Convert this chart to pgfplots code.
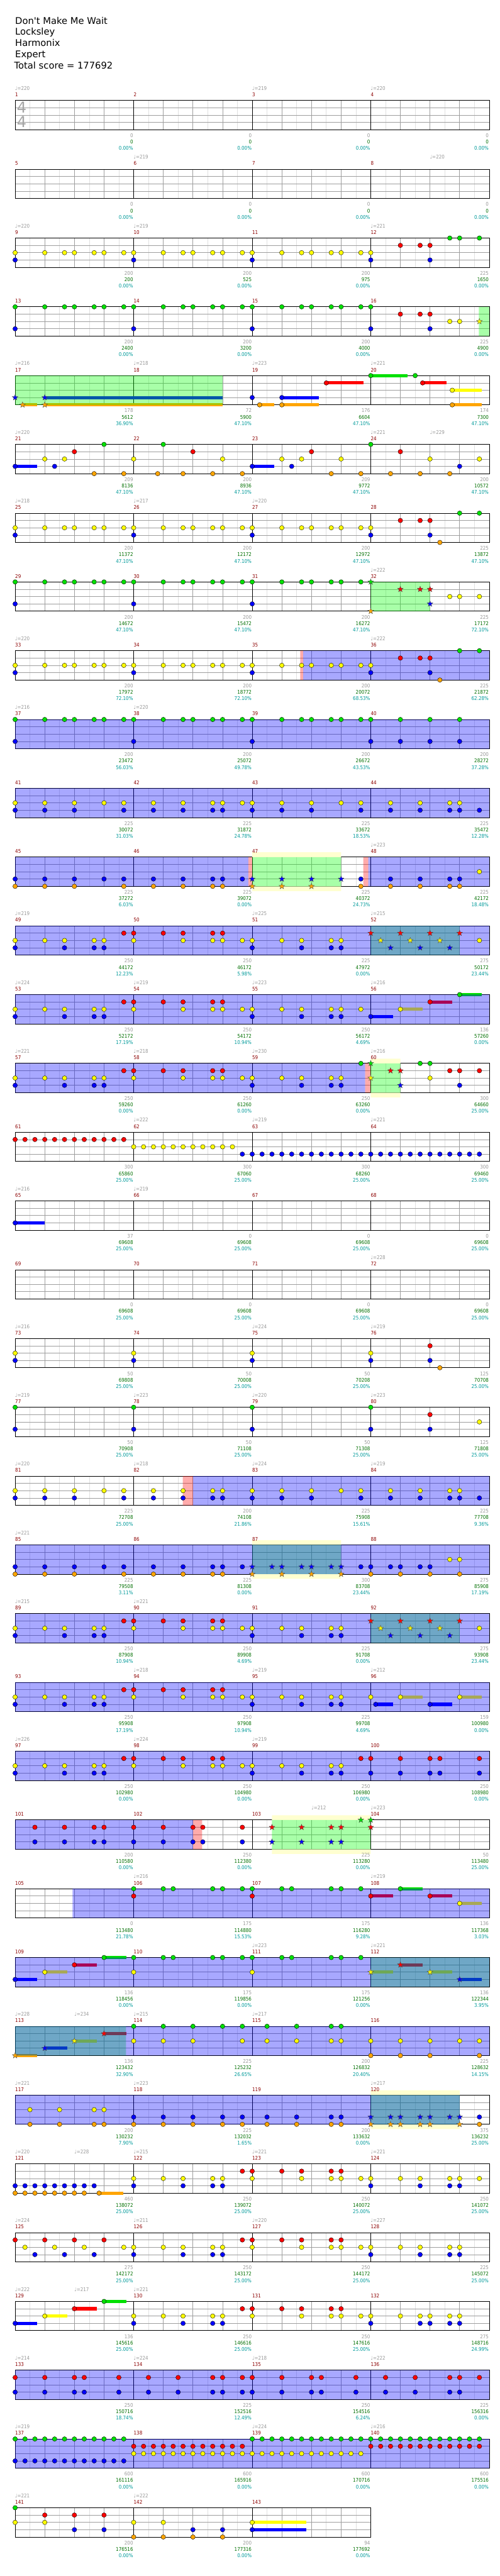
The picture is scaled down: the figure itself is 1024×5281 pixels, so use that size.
\documentclass[border=0pt]{standalone}
\usepackage{fontspec}
\setmainfont{DejaVu Sans}
\newfontfamily\labf{DejaVu Sans}[FakeStretch=0.88]
\usepackage{pgfplots}
\pgfplotsset{compat=1.18}
\definecolor{cG}{RGB}{0,224,0}
\definecolor{cR}{RGB}{255,0,0}
\definecolor{cY}{RGB}{255,255,0}
\definecolor{cB}{RGB}{0,0,255}
\definecolor{cO}{RGB}{255,165,0}
\definecolor{ovg}{RGB}{0,255,0}
\definecolor{paley}{RGB}{255,255,208}
\definecolor{lgrey}{RGB}{153,153,153}
\definecolor{sgreen}{RGB}{0,110,0}
\definecolor{steal}{RGB}{0,153,153}
\definecolor{mred}{RGB}{139,0,0}
\newcommand\lab{\labf\fontsize{10.5}{12}\selectfont}
\newcommand\ttl{\fontsize{19}{23}\selectfont}
\pgfdeclareplotmark{fstar}{%
 \pgfpathmoveto{\pgfpointpolar{90}{\pgfplotmarksize}}%
 \pgfpathlineto{\pgfpointpolar{126}{0.42\pgfplotmarksize}}%
 \pgfpathlineto{\pgfpointpolar{162}{\pgfplotmarksize}}%
 \pgfpathlineto{\pgfpointpolar{198}{0.42\pgfplotmarksize}}%
 \pgfpathlineto{\pgfpointpolar{234}{\pgfplotmarksize}}%
 \pgfpathlineto{\pgfpointpolar{270}{0.42\pgfplotmarksize}}%
 \pgfpathlineto{\pgfpointpolar{306}{\pgfplotmarksize}}%
 \pgfpathlineto{\pgfpointpolar{342}{0.42\pgfplotmarksize}}%
 \pgfpathlineto{\pgfpointpolar{18}{\pgfplotmarksize}}%
 \pgfpathlineto{\pgfpointpolar{54}{0.42\pgfplotmarksize}}%
 \pgfpathclose\pgfusepathqfillstroke}
\pgfplotsset{
 rowax/.style={scale only axis, width=972pt, height=60pt, xmin=0, xmax=16, ymin=0, ymax=4,
  clip=false, anchor=north west, axis line style={draw=black, line width=1.1pt},
  xtick={0,...,16}, minor xtick={0.5,1.5,...,15.5}, ytick={1,2,3},
  xticklabels={}, yticklabels={}, major tick length=0pt, minor tick length=0pt,
  xmajorgrids=true, xminorgrids=true, ymajorgrids=true,
  major grid style={draw=black!38, line width=0.9pt},
  minor grid style={draw=black!12, line width=0.8pt},
  extra x ticks={4,8,12}, extra x tick labels={},
  extra x tick style={major grid style={draw=black, line width=0.9pt}}},
 lastax/.style={rowax, width=729pt, xmax=12, xtick={0,...,12}, minor xtick={0.5,1.5,...,11.5}, extra x ticks={4,8}},
 nt/.style={only marks, mark=*, mark size=4.7pt, mark options={draw=black, line width=0.5pt, fill=#1}, forget plot},
 st/.style={only marks, mark=fstar, mark size=6.2pt, mark options={draw=black!70, line width=0.5pt, fill=#1}, forget plot},
 su/.style={no marks, draw=#1, line width=6.5pt, line cap=butt, forget plot},
}
\tikzset{
 mnum/.style={anchor=base west, inner sep=0pt, font=\lab, text=mred},
 tmp/.style={anchor=base west, inner sep=0pt, font=\lab, text=lgrey},
 s1/.style={anchor=base east, inner sep=0pt, font=\lab, text=lgrey, xshift=-1pt},
 s2/.style={anchor=base east, inner sep=0pt, font=\lab, text=sgreen, xshift=-1pt},
 s3/.style={anchor=base east, inner sep=0pt, font=\lab, text=steal, xshift=-1pt},
}
\newcommand\ptsplot[3]{\gdef\tmpc{}\edef\tmplist{#3}%
 \foreach \x in \tmplist {\xdef\tmpc{\tmpc(\x,#2)}}%
 \edef\tmpd{\noexpand\addplot[#1] coordinates {\tmpc};}\tmpd}
\newcommand\nts[3]{\ptsplot{nt=#1}{#2}{#3}}
\newcommand\sts[3]{\ptsplot{st=#1}{#2}{#3}}
\newcommand\sus[4]{\addplot[su=#1] coordinates {(#3,#2)(#4,#2)};}
\newcommand\reg[4]{\addplot[draw=none, fill=#1, fill opacity=#2, forget plot] coordinates {(#3,0)(#4,0)(#4,4)(#3,4)(#3,0)};}
\newcommand\ovB[2]{\reg{cB}{0.34}{#1}{#2}}
\newcommand\ovG[2]{\reg{ovg}{0.34}{#1}{#2}}
\newcommand\ovP[2]{\reg{cR}{0.33}{#1}{#2}}
\newcommand\ovY[2]{\addplot[draw=none, fill=paley, forget plot] coordinates {(#1,4)(#2,4)(#2,4.65)(#1,4.65)(#1,4)};%
 \addplot[draw=none, fill=paley, forget plot] coordinates {(#1,0)(#2,0)(#2,-0.65)(#1,-0.65)(#1,0)};}
\newcommand\tp[2]{\node[tmp] at (axis cs:#1,5.4) {♩=#2};}
\newcommand\mns[1]{\node[mnum] at (axis cs:0,4.53) {#1};\node[mnum] at (axis cs:4,4.53) {\the\numexpr#1+1\relax};%
 \node[mnum] at (axis cs:8,4.53) {\the\numexpr#1+2\relax};\node[mnum] at (axis cs:12,4.53) {\the\numexpr#1+3\relax};}
\newcommand\scr[4]{\node[s1] at (axis cs:#1,-1.05) {#2};\node[s2] at (axis cs:#1,-1.92) {#3};\node[s3] at (axis cs:#1,-2.8) {#4};}
\def\SwA{0,1,1.667,2,2.667,3,3.667}
\def\SwB{4,5,5.667,6,6.667,7,7.667}
\def\SwC{8,9,9.667,10,10.667,11,11.667}
\def\PatY{0,1,1.667,2.667,3,4,5.667,6.667,7,7.667,8,9,9.667,10.667,11}
\def\PatB{0,1.667,2.667,3,8,9.667,10.667,11}
\def\PatR{3.667,4,5,5.667,6.667,7}
\def\triA{0,0.333,0.667,1,1.333,1.667,2,2.333,2.667,3,3.333,3.667}
\def\triB{4,4.333,4.667,5,5.333,5.667,6,6.333,6.667,7,7.333,7.667}
\def\triC{8,8.333,8.667,9,9.333,9.667,10,10.333,10.667,11,11.333,11.667}
\def\triD{12,12.333,12.667,13,13.333,13.667,14,14.333,14.667,15,15.333,15.667}
\begin{document}
\begin{tikzpicture}
\useasboundingbox (0,0) rectangle (1024pt,-5281pt);
\node[anchor=base west, inner sep=0pt, font=\ttl] at (31pt,-49pt) {Don\textquotesingle t Make Me Wait};
\node[anchor=base west, inner sep=0pt, font=\ttl] at (31pt,-72pt) {Locksley};
\node[anchor=base west, inner sep=0pt, font=\ttl] at (31pt,-95pt) {Harmonix};
\node[anchor=base west, inner sep=0pt, font=\ttl] at (31pt,-118pt) {Expert};
\node[anchor=base west, inner sep=0pt, font=\ttl] at (29pt,-141pt) {Total score = 177692};
% row 1
\begin{axis}[rowax, at={(31pt,-206pt)}]
\node[text=black!35, font=\fontsize{31}{31}\selectfont, inner sep=0pt] at (axis cs:0.22,3.03) {4};
\node[text=black!35, font=\fontsize{31}{31}\selectfont, inner sep=0pt] at (axis cs:0.22,1.07) {4};
\mns{1}\tp{0}{220}\tp{8}{219}\tp{12}{220}
\scr{4}{0}{0}{0.00\%}\scr{8}{0}{0}{0.00\%}\scr{12}{0}{0}{0.00\%}\scr{16}{0}{0}{0.00\%}
\end{axis}
% row 2
\begin{axis}[rowax, at={(31pt,-347pt)}]
\mns{5}\tp{4}{219}\tp{14}{220}
\scr{4}{0}{0}{0.00\%}\scr{8}{0}{0}{0.00\%}\scr{12}{0}{0}{0.00\%}\scr{16}{0}{0}{0.00\%}
\end{axis}
% row 3
\begin{axis}[rowax, at={(31pt,-488pt)}]
\nts{cY}{2}{\SwA,\SwB,\SwC,12}
\nts{cB}{1}{0,4,8,12,14}
\nts{cR}{3}{13,13.667,14}
\nts{cG}{4}{14.667,15,15.667}
\mns{9}\tp{0}{220}\tp{4}{219}\tp{12}{221}
\scr{4}{200}{200}{0.00\%}\scr{8}{200}{525}{0.00\%}\scr{12}{200}{975}{0.00\%}\scr{16}{225}{1650}{0.00\%}
\end{axis}
% row 4
\begin{axis}[rowax, at={(31pt,-629pt)}]
\nts{cG}{4}{\SwA,\SwB,\SwC,12}
\nts{cB}{1}{0,4,8,12,14}
\nts{cR}{3}{13,13.667,14}
\nts{cY}{2}{14.667,15}
\sts{cY}{2}{15.667}
\ovG{15.65}{16}
\mns{13}
\scr{4}{200}{2400}{0.00\%}\scr{8}{200}{3200}{0.00\%}\scr{12}{200}{4000}{0.00\%}\scr{16}{225}{4900}{0.00\%}
\end{axis}
% row 5
\begin{axis}[rowax, at={(31pt,-770pt)}]
\sus{cO}{0}{0.25}{0.75}\sus{cB}{1}{1}{7}\sus{cO}{0}{1}{7}\sus{cO}{0}{8.25}{8.75}
\sus{cB}{1}{9}{10.25}\sus{cO}{0}{9}{10.25}\sus{cR}{3}{10.5}{11.75}\sus{cG}{4}{12}{13.25}
\sus{cR}{3}{13.75}{14.55}\sus{cY}{2}{14.75}{15.75}\sus{cO}{0}{14.75}{15.75}
\sts{cB}{1}{0,1}\sts{cO}{0}{0.25,1}
\nts{cB}{1}{8,9}\nts{cO}{0}{8.25,9,14.75}\nts{cR}{3}{10.5,13.75}\nts{cG}{4}{12,13.5}\nts{cY}{2}{14.75}
\ovG{0}{7}
\mns{17}\tp{0}{216}\tp{4}{218}\tp{8}{223}\tp{12}{221}
\scr{4}{178}{5612}{36.90\%}\scr{8}{72}{5900}{47.10\%}\scr{12}{176}{6604}{47.10\%}\scr{16}{174}{7300}{47.10\%}
\end{axis}
% row 6
\begin{axis}[rowax, at={(31pt,-911pt)}]
\sus{cB}{1}{0}{0.75}\sus{cB}{1}{8}{8.75}
\nts{cB}{1}{0,1.333,8,9.333,15}
\nts{cY}{2}{1,1.667,4,7,9,9.667,11,14,15.667}
\nts{cR}{3}{2,6,10,13}
\nts{cG}{4}{3,5,12}
\nts{cO}{0}{2.667,3.667,4.81,5.667,6.667,7.667,10.667,11.667,12.667,13.667,14.667}
\mns{21}\tp{0}{220}\tp{12}{221}\tp{14}{229}
\scr{4}{209}{8136}{47.10\%}\scr{8}{200}{8936}{47.10\%}\scr{12}{209}{9772}{47.10\%}\scr{16}{200}{10572}{47.10\%}
\end{axis}
% row 7
\begin{axis}[rowax, at={(31pt,-1052pt)}]
\nts{cY}{2}{\SwA,\SwB,\SwC,12}
\nts{cB}{1}{0,4,8,12,14}
\nts{cR}{3}{13,13.667,14}
\nts{cO}{0}{14.333}
\nts{cG}{4}{15,15.667}
\mns{25}\tp{0}{218}\tp{4}{217}\tp{8}{220}
\scr{4}{200}{11372}{47.10\%}\scr{8}{200}{12172}{47.10\%}\scr{12}{200}{12972}{47.10\%}\scr{16}{225}{13872}{47.10\%}
\end{axis}
% row 8
\begin{axis}[rowax, at={(31pt,-1193pt)}]
\nts{cG}{4}{\SwA,\SwB,\SwC}
\nts{cB}{1}{0,4,8}
\nts{cY}{2}{14.667,15,15.667}
\sts{cG}{4}{12}\sts{cO}{0}{12}\sts{cR}{3}{13,13.667,14}\sts{cB}{1}{14}
\ovG{12}{14}
\mns{29}\tp{12}{222}
\scr{4}{200}{14672}{47.10\%}\scr{8}{200}{15472}{47.10\%}\scr{12}{200}{16272}{47.10\%}\scr{16}{225}{17172}{72.10\%}
\end{axis}
% row 9
\begin{axis}[rowax, at={(31pt,-1334pt)}]
\nts{cY}{2}{\SwA,\SwB,\SwC,12}
\nts{cB}{1}{0,4,8,12,14}
\nts{cR}{3}{13,13.667,14}
\nts{cO}{0}{14.333}
\nts{cG}{4}{15,15.667}
\ovP{9.62}{9.72}\ovB{9.72}{16}
\mns{33}\tp{0}{220}\tp{12}{222}
\scr{4}{200}{17972}{72.10\%}\scr{8}{200}{18772}{72.10\%}\scr{12}{200}{20072}{68.53\%}\scr{16}{225}{21872}{62.28\%}
\end{axis}
% row 10
\begin{axis}[rowax, at={(31pt,-1475pt)}]
\nts{cG}{4}{\SwA,\SwB,\SwC,12,13,14,15}
\nts{cB}{1}{0,4,8,12,13,14,15}
\ovB{0}{16}
\mns{37}\tp{0}{216}\tp{4}{220}
\scr{4}{200}{23472}{56.03\%}\scr{8}{200}{25072}{49.78\%}\scr{12}{200}{26672}{43.53\%}\scr{16}{200}{28272}{37.28\%}
\end{axis}
% row 11
\begin{axis}[rowax, at={(31pt,-1616pt)}]
\nts{cY}{2}{0,1,2,3,3.667,4.667,5.667,6.667,7,7.667,8,9,10,11,11.667,12.667,13.667,14.667,15}
\nts{cB}{1}{0,1,2,3.667,4.667,5.667,6.667,7,8,9,10,11.667,12.667,13.667,14.667,15,15.667}
\ovB{0}{16}
\mns{41}
\scr{4}{225}{30072}{31.03\%}\scr{8}{225}{31872}{24.78\%}\scr{12}{225}{33672}{18.53\%}\scr{16}{225}{35472}{12.28\%}
\end{axis}
% row 12
\begin{axis}[rowax, at={(31pt,-1757pt)}]
\ovY{8}{11}
\nts{cB}{1}{0,1,2,3,3.667,4.667,5.667,6.667,7,7.667,11.667,12.667,13.667,14.667,15}
\nts{cO}{0}{0,1,2,3.667,4.667,5.667,6.667,7,11.667,12.667,13.667,14.667,15}
\sts{cB}{1}{8,9,10,11}\sts{cO}{0}{8,9,10}
\nts{cY}{2}{15.667}
\ovB{0}{7.87}\ovP{7.87}{8}\ovG{8}{11}\ovP{11.75}{11.92}\ovB{11.92}{16}
\mns{45}\tp{12}{223}
\scr{4}{225}{37272}{6.03\%}\scr{8}{225}{39072}{0.00\%}\scr{12}{225}{40372}{24.73\%}\scr{16}{225}{42172}{18.48\%}
\end{axis}
% row 13
\begin{axis}[rowax, at={(31pt,-1898pt)}]
\nts{cY}{2}{\PatY,15.667}\nts{cB}{1}{\PatB}\nts{cR}{3}{\PatR}
\sts{cR}{3}{12,13,14,15}\sts{cY}{2}{12.333,13.333,14.333}\sts{cB}{1}{12.667,13.667,14.667}
\ovG{12}{15}\ovB{0}{16}
\mns{49}\tp{0}{219}\tp{8}{225}\tp{12}{215}
\scr{4}{250}{44172}{12.23\%}\scr{8}{250}{46172}{5.98\%}\scr{12}{225}{47972}{0.00\%}\scr{16}{275}{50172}{23.44\%}
\end{axis}
% row 14
\begin{axis}[rowax, at={(31pt,-2039pt)}]
\sus{cB}{1}{12}{12.75}\sus{cY}{2}{13}{13.75}\sus{cR}{3}{14}{14.75}\sus{cG}{4}{15}{15.75}
\nts{cY}{2}{\PatY,11.667,13}\nts{cB}{1}{\PatB,12}\nts{cR}{3}{\PatR,14}\nts{cG}{4}{15}
\ovB{0}{16}
\mns{53}\tp{0}{224}\tp{4}{219}\tp{8}{223}\tp{12}{216}
\scr{4}{250}{52172}{17.19\%}\scr{8}{250}{54172}{10.94\%}\scr{12}{250}{56172}{4.69\%}\scr{16}{136}{57260}{0.00\%}
\end{axis}
% row 15
\begin{axis}[rowax, at={(31pt,-2180pt)}]
\ovY{12}{13}
\nts{cY}{2}{\PatY,14}\nts{cB}{1}{\PatB,15}\nts{cR}{3}{\PatR,14.667,15,15.667}\nts{cG}{4}{11.667,13.667,14}
\sts{cG}{4}{12}\sts{cY}{2}{12}\sts{cR}{3}{12.667,13}\sts{cB}{1}{13}
\ovB{0}{11.81}\ovP{11.81}{12}\ovG{12}{13}
\mns{57}\tp{0}{221}\tp{4}{218}\tp{8}{230}\tp{12}{216}
\scr{4}{250}{59260}{0.00\%}\scr{8}{250}{61260}{0.00\%}\scr{12}{250}{63260}{0.00\%}\scr{16}{300}{64660}{25.00\%}
\end{axis}
% row 16
\begin{axis}[rowax, at={(31pt,-2321pt)}]
\nts{cR}{3}{\triA}
\nts{cY}{2}{4,4.333,4.667,5,5.333,5.667,6,6.333,6.667,7,7.333}
\nts{cB}{1}{7.667,\triC,\triD}
\mns{61}\tp{4}{222}\tp{8}{219}\tp{12}{221}
\scr{4}{300}{65860}{25.00\%}\scr{8}{300}{67060}{25.00\%}\scr{12}{300}{68260}{25.00\%}\scr{16}{300}{69460}{25.00\%}
\end{axis}
% row 17
\begin{axis}[rowax, at={(31pt,-2462pt)}]
\sus{cB}{1}{0}{1}\nts{cB}{1}{0}
\mns{65}\tp{0}{216}\tp{4}{219}
\scr{4}{37}{69608}{25.00\%}\scr{8}{0}{69608}{25.00\%}\scr{12}{0}{69608}{25.00\%}\scr{16}{0}{69608}{25.00\%}
\end{axis}
% row 18
\begin{axis}[rowax, at={(31pt,-2603pt)}]
\mns{69}\tp{12}{228}
\scr{4}{0}{69608}{25.00\%}\scr{8}{0}{69608}{25.00\%}\scr{12}{0}{69608}{25.00\%}\scr{16}{0}{69608}{25.00\%}
\end{axis}
% row 19
\begin{axis}[rowax, at={(31pt,-2744pt)}]
\nts{cY}{2}{0,4,8,12}\nts{cB}{1}{0,4,8,12,14}\nts{cR}{3}{14}\nts{cO}{0}{14.333}
\mns{73}\tp{0}{216}\tp{8}{224}\tp{12}{219}
\scr{4}{50}{69808}{25.00\%}\scr{8}{50}{70008}{25.00\%}\scr{12}{50}{70208}{25.00\%}\scr{16}{125}{70708}{25.00\%}
\end{axis}
% row 20
\begin{axis}[rowax, at={(31pt,-2885pt)}]
\nts{cG}{4}{0,4,8,12}\nts{cB}{1}{0,4,8,12,14}\nts{cR}{3}{14}\nts{cY}{2}{15.667}
\mns{77}\tp{0}{219}\tp{4}{223}\tp{8}{220}\tp{12}{223}
\scr{4}{50}{70908}{25.00\%}\scr{8}{50}{71108}{25.00\%}\scr{12}{50}{71308}{25.00\%}\scr{16}{125}{71808}{25.00\%}
\end{axis}
% row 21
\begin{axis}[rowax, at={(31pt,-3026pt)}]
\nts{cY}{2}{0,1,2,3,3.667,4.667,5.667,6.667,7,8,9,10,11,11.667,12.667,13.667,14.667,15}
\nts{cB}{1}{0,1,2,3.667,4.667,5.667,6.667,7,8,9,10,11.667,12.667,13.667,14.667,15,15.667}
\ovP{5.66}{6}\ovB{6}{16}
\mns{81}\tp{0}{220}\tp{4}{218}\tp{8}{224}\tp{12}{219}
\scr{4}{225}{72708}{25.00\%}\scr{8}{200}{74108}{21.86\%}\scr{12}{225}{75908}{15.61\%}\scr{16}{225}{77708}{9.36\%}
\end{axis}
% row 22
\begin{axis}[rowax, at={(31pt,-3167pt)}]
\ovY{8}{11}
\nts{cB}{1}{0,1,2,3,3.667,4.667,5.667,6.667,7,7.667,11.667,12,12.667,13,13.667,14}
\nts{cO}{0}{0,1,2,3.667,4.667,5.667,6.667,7,12,13,14,15}
\sts{cB}{1}{8,8.667,9,9.667,10,10.667,11}\sts{cO}{0}{8,9,10,11}
\nts{cY}{2}{14.667,15}
\ovG{8}{11}\ovB{0}{16}
\mns{85}\tp{0}{221}
\scr{4}{225}{79508}{3.11\%}\scr{8}{225}{81308}{0.00\%}\scr{12}{300}{83708}{23.44\%}\scr{16}{275}{85908}{17.19\%}
\end{axis}
% row 23
\begin{axis}[rowax, at={(31pt,-3308pt)}]
\nts{cY}{2}{\PatY,15.667}\nts{cB}{1}{\PatB}\nts{cR}{3}{\PatR}
\sts{cR}{3}{12,13,14,15}\sts{cY}{2}{12.333,13.333,14.333}\sts{cB}{1}{12.667,13.667,14.667}
\ovG{12}{15}\ovB{0}{16}
\mns{89}\tp{0}{215}\tp{4}{221}
\scr{4}{250}{87908}{10.94\%}\scr{8}{250}{89908}{4.69\%}\scr{12}{225}{91708}{0.00\%}\scr{16}{275}{93908}{23.44\%}
\end{axis}
% row 24
\begin{axis}[rowax, at={(31pt,-3449pt)}]
\sus{cB}{1}{12.167}{12.75}\sus{cY}{2}{13}{13.75}\sus{cB}{1}{14}{14.75}\sus{cY}{2}{15}{15.75}
\nts{cY}{2}{\PatY,12,13,15}\nts{cB}{1}{\PatB,12.167,14}\nts{cR}{3}{\PatR}
\ovB{0}{16}
\mns{93}\tp{4}{218}\tp{8}{219}\tp{12}{212}
\scr{4}{250}{95908}{17.19\%}\scr{8}{250}{97908}{10.94\%}\scr{12}{225}{99708}{4.69\%}\scr{16}{159}{100980}{0.00\%}
\end{axis}
% row 25
\begin{axis}[rowax, at={(31pt,-3590pt)}]
\nts{cY}{2}{\PatY}\nts{cB}{1}{\PatB,12,13,14,14.333,15.667}\nts{cR}{3}{\PatR,11.667,12,13,14,14.333,15.667}
\ovB{0}{16}
\mns{97}\tp{0}{226}\tp{4}{224}\tp{8}{219}
\scr{4}{250}{102980}{0.00\%}\scr{8}{250}{104980}{0.00\%}\scr{12}{250}{106980}{0.00\%}\scr{16}{250}{108980}{0.00\%}
\end{axis}
% row 26
\begin{axis}[rowax, at={(31pt,-3731pt)}]
\ovY{8.667}{12}
\nts{cR}{3}{0.667,1.667,2.667,3,4,5,6,6.333,7.667}
\nts{cB}{1}{0.667,1.667,2.667,3,4,5,6,6.333,7.667}
\sts{cR}{3}{8.667,9.667,10.667,11,12}\sts{cB}{1}{8.667,9.667,10.667,11}\sts{cG}{4}{11.667,12}
\ovB{0}{6}\ovP{6}{6.31}\ovG{8.667}{12}
\mns{101}\tp{10}{212}\tp{12}{223}
\scr{4}{200}{110580}{0.00\%}\scr{8}{250}{112380}{0.00\%}\scr{12}{225}{113280}{0.00\%}\scr{16}{50}{113480}{25.00\%}
\end{axis}
% row 27
\begin{axis}[rowax, at={(31pt,-3872pt)}]
\sus{cR}{3}{12}{12.75}\sus{cG}{4}{13}{13.75}\sus{cR}{3}{14}{14.75}\sus{cY}{2}{15}{15.75}
\nts{cG}{4}{4,5,5.333,6.667,7,7.667,8,9,9.333,10.667,11,11.667,13}
\nts{cR}{3}{4,8,12,14}\nts{cY}{2}{15}
\ovB{1.94}{16}
\mns{105}\tp{4}{216}\tp{12}{219}
\scr{4}{0}{113480}{21.78\%}\scr{8}{175}{114880}{15.53\%}\scr{12}{175}{116280}{9.28\%}\scr{16}{136}{117368}{3.03\%}
\end{axis}
% row 28
\begin{axis}[rowax, at={(31pt,-4013pt)}]
\sus{cB}{1}{0}{0.75}\sus{cY}{2}{1}{1.75}\sus{cR}{3}{2}{2.75}\sus{cG}{4}{3}{3.75}
\sus{cY}{2}{12}{12.75}\sus{cR}{3}{13}{13.75}\sus{cY}{2}{14}{14.75}\sus{cB}{1}{15}{15.75}
\nts{cB}{1}{0}\nts{cY}{2}{1,4,8}\nts{cR}{3}{2}\nts{cG}{4}{3,4,5,5.333,6.667,7,7.667,8,9,9.333,10.667,11,11.667}
\sts{cY}{2}{12,14}\sts{cR}{3}{13}\sts{cB}{1}{15}
\ovG{12}{16}\ovB{0}{16}
\mns{109}\tp{8}{223}\tp{12}{221}
\scr{4}{136}{118456}{0.00\%}\scr{8}{175}{119856}{0.00\%}\scr{12}{175}{121256}{0.00\%}\scr{16}{136}{122344}{3.95\%}
\end{axis}
% row 29
\begin{axis}[rowax, at={(31pt,-4154pt)}]
\sus{cO}{0}{0}{0.75}\sus{cB}{1}{1}{1.75}\sus{cY}{2}{2}{2.75}\sus{cR}{3}{3}{3.75}
\sts{cO}{0}{0}\sts{cB}{1}{1}\sts{cY}{2}{2}\sts{cR}{3}{3}
\nts{cG}{4}{4,5,6,7,7.667,8.5,9.5,10.667,11}
\nts{cY}{2}{4,5,6,7.667,8.5,9.5,10.667,11,12,13,14,15,15.667}
\nts{cO}{0}{12,13,14,15.667}
\ovG{0}{3.74}\ovB{0}{16}
\mns{113}\tp{0}{228}\tp{2}{234}\tp{4}{215}\tp{8}{217}
\scr{4}{136}{123432}{32.90\%}\scr{8}{225}{125232}{26.65\%}\scr{12}{200}{126832}{20.40\%}\scr{16}{225}{128632}{14.15\%}
\end{axis}
% row 30
\begin{axis}[rowax, at={(31pt,-4295pt)}]
\ovY{12}{15}
\nts{cY}{2}{0.5,1.5,2.667,3}
\nts{cO}{0}{0.5,1.5,2.667,3,4,5,6,7,7.667,8.5,9.5,10.667,11,15.667}
\nts{cB}{1}{4,5,6,7,7.667,8.5,9.5,10.667,11,15.667}
\sts{cB}{1}{12,12.667,13,13.667,14,14.667,15}\sts{cO}{0}{12,12.667,13,13.667,14,15}
\ovG{12}{15}\ovB{0}{15}
\mns{117}\tp{0}{221}\tp{4}{223}\tp{12}{217}
\scr{4}{200}{130232}{7.90\%}\scr{8}{225}{132032}{1.65\%}\scr{12}{200}{133632}{0.00\%}\scr{16}{375}{136232}{25.00\%}
\end{axis}
% row 31
\begin{axis}[rowax, at={(31pt,-4436pt)}]
\sus{cO}{0}{2.833}{3.65}
\nts{cB}{1}{0,0.333,0.667,1,1.333,1.667,2,2.333,2.667,4,5.667,6.667,7,12,13.667,14.667,15}
\nts{cO}{0}{0,0.333,0.667,1,1.333,1.667,2,2.333,2.833}
\nts{cY}{2}{4,5,5.667,6.667,7,8,9.667,10.667,11,11.667,12,13,13.667,14.667,15,15.667}
\nts{cR}{3}{7.667,8,9,9.667,10.667,11}
\mns{121}\tp{0}{220}\tp{2}{228}\tp{4}{215}\tp{8}{221}\tp{12}{221}
\scr{4}{460}{138072}{25.00\%}\scr{8}{250}{139072}{25.00\%}\scr{12}{250}{140072}{25.00\%}\scr{16}{250}{141072}{25.00\%}
\end{axis}
% row 32
\begin{axis}[rowax, at={(31pt,-4577pt)}]
\nts{cR}{3}{0,1,2,3,7.667,8,9,9.667,10.667,11}
\nts{cY}{2}{0.333,1.333,2.333,3.667,4,5,5.667,6.667,7,8,9.667,10.667,11,11.667,12,13,13.667,14.667,15}
\nts{cB}{1}{0.667,1.667,2.667,4,5.667,6.667,7,12,13.667,14.667,15}
\mns{125}\tp{0}{224}\tp{4}{211}\tp{8}{220}\tp{12}{227}
\scr{4}{275}{142172}{25.00\%}\scr{8}{250}{143172}{25.00\%}\scr{12}{250}{144172}{25.00\%}\scr{16}{225}{145072}{25.00\%}
\end{axis}
% row 33
\begin{axis}[rowax, at={(31pt,-4718pt)}]
\sus{cB}{1}{0}{0.75}\sus{cY}{2}{1}{1.75}\sus{cR}{3}{2}{2.75}\sus{cG}{4}{3}{3.75}
\nts{cB}{1}{0,4,5.667,6.667,7,12,13.667,14,14.667,15}
\nts{cY}{2}{1,4,5,5.667,6.667,7,8,9.667,10.667,11,11.667,12,13,13.667,14,14.667,15}
\nts{cR}{3}{2,7.667,8,9,9.667,10.667,11}
\nts{cG}{4}{3}
\mns{129}\tp{0}{222}\tp{2}{217}\tp{4}{221}
\scr{4}{136}{145616}{25.00\%}\scr{8}{250}{146616}{25.00\%}\scr{12}{250}{147616}{25.00\%}\scr{16}{275}{148716}{24.99\%}
\end{axis}
% row 34
\begin{axis}[rowax, at={(31pt,-4859pt)}]
\nts{cR}{3}{0,1,2,2.333,3.5,4.5,5.5,6.667,7,7.667,8,9,10,10.333,11.5,12.5,13.5,14.667,15,15.667}
\nts{cB}{1}{0,1,2,2.333,3.5,4.5,5.5,6.667,7,7.667,8,9,10,10.333,11.5,12.5,13.5,14.667,15}
\ovB{0}{16}
\mns{133}\tp{0}{214}\tp{4}{224}\tp{8}{218}\tp{12}{222}
\scr{4}{250}{150716}{18.74\%}\scr{8}{225}{152516}{12.49\%}\scr{12}{250}{154516}{6.24\%}\scr{16}{225}{156316}{0.00\%}
\end{axis}
% row 35
\begin{axis}[rowax, at={(31pt,-5000pt)}]
\nts{cG}{4}{\triA,\triC,\triD}\nts{cB}{1}{\triA}\nts{cR}{3}{\triB,\triD}\nts{cY}{2}{\triB,\triC}
\ovB{0}{16}
\mns{137}\tp{0}{219}\tp{8}{224}\tp{12}{216}
\scr{4}{600}{161116}{0.00\%}\scr{8}{600}{165916}{0.00\%}\scr{12}{600}{170716}{0.00\%}\scr{16}{600}{175516}{0.00\%}
\end{axis}
% row 36
\begin{axis}[lastax, at={(31pt,-5141pt)}]
\sus{cY}{2}{8}{9.83}\sus{cB}{1}{8}{9.83}
\nts{cG}{4}{0}\nts{cY}{2}{0,1,4,5,8}\nts{cR}{3}{1,2,3}\nts{cB}{1}{2,3,6,7,8}\nts{cO}{0}{4,5,6,7}
\node[mnum] at (axis cs:0,4.53) {141};\node[mnum] at (axis cs:4,4.53) {142};\node[mnum] at (axis cs:8,4.53) {143};
\tp{0}{221}\tp{4}{222}
\scr{4}{200}{176516}{0.00\%}\scr{8}{200}{177316}{0.00\%}\scr{12}{94}{177692}{0.00\%}
\end{axis}
\end{tikzpicture}
\end{document}
